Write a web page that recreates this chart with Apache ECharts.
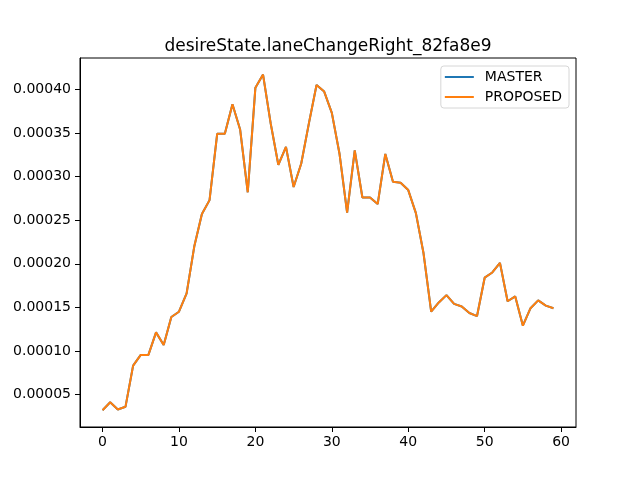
<!DOCTYPE html>
<html lang="en">

<head>
    <meta charset="UTF-8">
    <title>desireState.laneChangeRight_82fa8e9</title>
    <script src="https://cdn.jsdelivr.net/npm/echarts@6/dist/echarts.min.js"></script>
    <style>
        html, body { margin: 0; padding: 0; background: #fff; }
        #main { width: 640px; height: 480px; }
    </style>
</head>

<body>
    <div id="main"></div>
</body>

<script>
    // values, x = 0..59
    var masterValues = [
        3.20e-5, 4.12e-5, 3.28e-5, 3.59e-5, 8.32e-5, 9.54e-5, 9.54e-5, 12.13e-5, 10.68e-5, 13.89e-5,
        14.50e-5, 16.60e-5, 21.97e-5, 25.70e-5, 27.30e-5, 34.90e-5, 34.90e-5, 38.30e-5, 35.40e-5, 28.20e-5,
        40.20e-5, 41.70e-5, 36.10e-5, 31.35e-5, 33.40e-5, 28.80e-5, 31.50e-5, 36.10e-5, 40.50e-5, 39.75e-5,
        37.30e-5, 32.65e-5, 25.86e-5, 33.00e-5, 27.60e-5, 27.60e-5, 26.85e-5, 32.60e-5, 29.40e-5, 29.30e-5,
        28.45e-5, 25.80e-5, 21.20e-5, 14.50e-5, 15.56e-5, 16.40e-5, 15.40e-5, 15.10e-5, 14.35e-5, 14.00e-5,
        18.40e-5, 19.00e-5, 20.10e-5, 15.70e-5, 16.25e-5, 12.90e-5, 14.90e-5, 15.80e-5, 15.20e-5, 14.90e-5
    ];
    var proposedValues = masterValues.slice();
    var seriesNames = ['MASTER', 'PROPOSED'];
    var xTicks = [0, 10, 20, 30, 40, 50, 60];
    var yTicks = [5e-5, 10e-5, 15e-5, 20e-5, 25e-5, 30e-5, 35e-5, 40e-5];
    var xRange = [-2.95, 61.95];
    var yRange = [1.275e-5, 43.6e-5];

    function toPairs(values) {
        var out = [];
        for (let i = 0; i < values.length; i++) {
            out.push([i, values[i]]);
        }
        return out;
    }

    var font = 'DejaVu Sans';
    var chart = echarts.init(document.getElementById('main'));

    var option = {
        animation: false,
        backgroundColor: '#fff',
        title: {
            text: 'desireState.laneChangeRight_82fa8e9',
            left: 323,
            textAlign: 'center',
            top: 33,
            textStyle: { fontFamily: font, fontSize: 17, fontWeight: 'normal', color: '#000' }
        },
        legend: {
            data: seriesNames,
            orient: 'vertical',
            right: 71,
            top: 66,
            icon: 'rect',
            itemWidth: 29,
            itemHeight: 2,
            itemGap: 6,
            padding: [4, 7, 4, 4],
            backgroundColor: '#fff',
            borderColor: '#d6d6d6',
            borderWidth: 1,
            borderRadius: 3,
            textStyle: { fontFamily: font, fontSize: 14, color: '#000', padding: [0, 0, 0, 6] }
        },
        grid: {
            left: 80,
            right: 64,
            top: 58,
            bottom: 53,
            show: true,
            borderColor: '#000',
            borderWidth: 1
        },
        xAxis: {
            type: 'value',
            min: xRange[0],
            max: xRange[1],
            splitLine: { show: false },
            axisLine: { onZero: false, lineStyle: { color: '#000', width: 1 } },
            axisTick: { length: 5, customValues: xTicks, lineStyle: { color: '#000' } },
            axisLabel: {
                margin: 8,
                customValues: xTicks,
                fontFamily: font,
                fontSize: 14,
                color: '#000',
                formatter: function (v) { return String(Math.round(v)); }
            }
        },
        yAxis: {
            type: 'value',
            min: yRange[0],
            max: yRange[1],
            splitLine: { show: false },
            axisLine: { show: true, onZero: false, lineStyle: { color: '#000', width: 1 } },
            axisTick: { show: true, length: 5, customValues: yTicks, lineStyle: { color: '#000' } },
            axisLabel: {
                margin: 9,
                customValues: yTicks,
                fontFamily: font,
                fontSize: 14,
                color: '#000',
                formatter: function (v) { return v.toFixed(5); }
            }
        },
        series: [
            {
                name: seriesNames[0],
                type: 'line',
                data: toPairs(masterValues),
                showSymbol: false,
                symbol: 'none',
                color: '#1f77b4',
                lineStyle: { width: 2, color: '#1f77b4' }
            },
            {
                name: seriesNames[1],
                type: 'line',
                data: toPairs(proposedValues),
                showSymbol: false,
                symbol: 'none',
                color: '#ff7f0e',
                lineStyle: { width: 2, color: '#ff7f0e' }
            }
        ]
    };

    chart.setOption(option);
</script>

</html>
